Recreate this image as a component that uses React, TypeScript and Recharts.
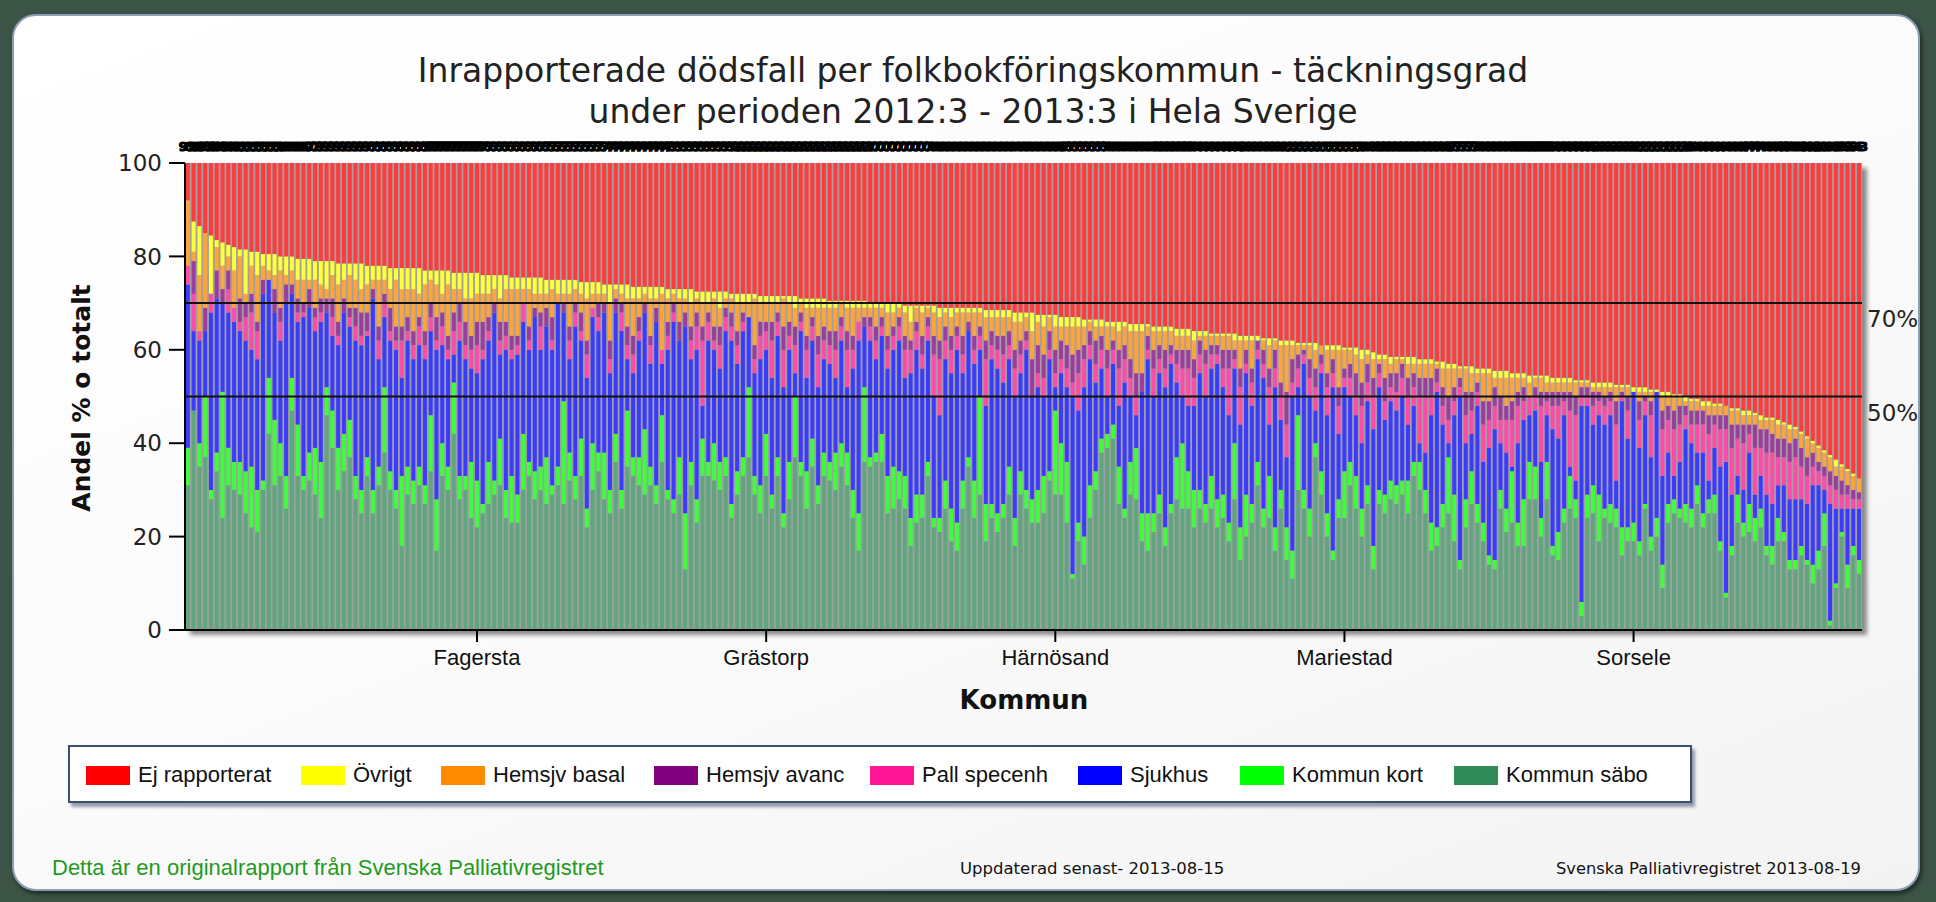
import React from "react";
import { BarChart, Bar, XAxis, YAxis, CartesianGrid, ReferenceLine, LabelList } from "recharts";

// ---- data (per kommun, sorted by reported share) ----
const sabo = [
31,47,35,37,28,34,24,31,30,29,25,22,21,30,42,31,33,26,47,33,30,32,29,24,46,39,30,34,37,28,25,33,25,31,38,30,26,18,29,27,31,27,34,17,33,30,42,28,30,24,22,25,27,29,31,24,23,23,
30,33,28,30,27,29,31,27,32,28,33,22,30,34,28,25,36,26,35,33,31,29,31,27,36,28,25,29,13,31,23,33,33,32,30,33,24,29,33,37,29,25,33,26,33,22,28,37,33,26,35,27,33,32,30,35,31,24,
17,36,35,36,36,25,26,28,26,18,23,24,33,22,21,26,19,17,26,35,24,29,19,24,21,24,29,18,29,26,23,23,25,32,29,29,23,11,19,14,24,30,38,39,41,27,24,29,28,19,17,21,25,18,25,28,26,26,
22,26,23,26,22,24,19,28,15,20,23,31,22,24,17,26,15,11,30,26,20,37,29,20,15,24,24,31,26,20,27,13,27,25,28,27,29,25,33,30,25,17,18,22,25,19,13,22,27,23,19,14,13,26,21,23,18,18,
28,28,20,28,16,15,23,26,24,3,24,25,19,24,23,22,16,19,19,16,26,17,20,9,23,25,24,23,22,27,22,25,25,17,7,16,23,20,21,19,22,16,14,19,19,13,13,16,14,10,13,18,1,9,20,9,16,12];
const kort = [
8,0,5,13,2,4,27,8,6,7,9,13,9,2,12,14,7,7,7,11,3,6,10,12,6,8,9,8,8,5,5,4,5,4,14,4,4,15,6,5,4,4,12,11,7,5,11,5,3,12,10,2,9,3,10,6,10,6,
12,3,6,5,10,2,4,22,6,5,8,4,10,4,10,5,6,4,12,4,6,14,4,4,10,2,3,8,12,5,5,8,3,8,6,4,3,5,4,15,4,6,9,3,4,3,8,13,3,8,6,4,5,4,8,5,7,6,
8,16,2,2,6,8,9,6,7,6,6,5,3,2,3,6,7,6,6,2,8,21,8,3,4,3,6,6,5,4,5,7,8,2,18,11,13,1,4,6,7,4,3,3,3,8,2,7,11,6,8,4,4,4,2,9,14,8,
8,4,4,7,6,5,4,12,7,9,4,5,4,9,5,4,7,6,16,4,6,3,5,5,2,4,10,5,7,6,4,5,3,4,4,4,3,7,3,6,5,6,4,5,12,10,2,6,7,4,4,2,2,4,5,11,5,10,
8,7,4,8,2,6,3,7,4,3,5,6,10,2,4,4,6,3,4,3,1,3,4,5,4,3,2,4,4,4,3,3,4,2,1,2,6,3,6,5,4,2,4,5,2,2,2,2,1,4,4,7,1,1,1,5,2,3];
const sjukhus = [
35,17,22,14,38,33,19,29,30,28,28,25,28,40,21,23,22,37,18,22,34,31,25,30,16,16,22,26,20,29,31,26,41,23,15,28,30,21,27,26,26,27,18,32,21,23,6,29,25,20,23,31,26,36,18,30,25,30,
24,24,33,25,28,29,35,19,20,32,21,28,27,26,30,25,26,34,11,18,25,25,22,35,11,30,38,25,40,22,32,7,26,20,20,27,35,23,27,15,22,27,18,25,26,27,24,5,28,20,21,21,20,21,16,22,14,26,
37,13,25,20,21,23,25,28,21,31,31,27,26,26,22,26,29,37,23,27,25,10,21,31,31,26,23,26,21,30,22,22,17,24,5,15,16,38,24,32,27,19,15,8,13,13,27,14,7,26,33,25,26,30,30,16,10,14,
18,25,23,23,29,23,23,16,22,26,21,22,28,11,30,15,15,33,6,27,24,7,21,21,35,14,18,14,13,14,18,25,22,16,17,16,18,12,12,4,8,23,29,17,3,17,35,12,8,21,13,23,28,10,12,1,17,17,
10,12,12,10,25,20,20,2,4,42,19,13,17,18,19,6,27,19,28,20,19,17,27,19,11,5,10,16,14,7,13,4,10,16,28,11,4,7,11,5,7,11,9,7,10,13,13,10,12,17,14,5,25,16,5,12,8,11];
const pall = [
4,8,2,0,4,0,0,5,3,2,5,8,6,0,0,0,4,0,0,2,1,0,3,2,0,4,2,0,2,3,2,1,0,4,3,2,2,8,2,3,4,3,3,2,4,2,5,4,3,4,6,2,2,0,3,3,2,2,
4,2,0,5,0,2,0,0,4,3,2,5,2,3,0,3,0,4,3,4,2,0,4,0,3,3,2,0,0,4,5,14,4,2,5,3,3,4,2,0,3,5,4,8,3,8,3,6,2,6,3,7,4,4,6,3,8,4,
4,0,3,4,2,4,3,3,6,5,4,3,3,9,12,4,5,3,4,0,3,3,10,3,4,6,3,6,4,2,0,3,4,2,3,3,4,3,8,6,3,4,4,6,3,8,5,4,4,0,2,6,3,4,2,4,6,8,
6,4,7,3,2,4,10,2,8,2,5,2,3,8,4,5,7,3,4,2,4,5,2,6,3,6,2,4,4,8,4,7,3,4,3,4,4,6,4,10,12,4,2,4,5,3,2,6,5,3,8,6,5,5,7,10,8,4,
4,3,12,3,5,7,3,12,14,2,2,4,3,4,3,12,1,6,0,6,3,9,0,10,7,10,8,3,4,6,6,10,5,8,7,10,8,10,4,10,6,9,11,6,6,8,9,7,6,4,3,3,4,4,3,3,2,2];
const avanc = [
0,7,0,5,0,6,3,4,0,5,3,4,2,3,0,5,3,4,2,3,2,4,2,3,3,4,3,3,2,4,5,4,2,3,2,5,3,3,3,3,2,3,3,5,3,3,4,4,5,3,5,6,3,2,4,3,3,2,
0,3,2,3,4,5,0,2,3,2,4,3,0,3,2,4,3,2,4,4,3,2,2,3,0,3,2,4,3,3,3,3,2,3,4,2,3,3,2,0,3,3,2,4,2,5,3,4,2,3,2,4,3,3,4,2,4,3,
0,2,2,3,2,3,2,2,3,2,2,4,2,4,4,3,3,2,4,2,3,2,4,3,3,4,3,4,3,2,8,6,5,4,5,4,5,6,5,3,3,5,3,4,2,4,3,4,5,4,3,4,3,4,2,3,4,4,
4,3,3,2,2,4,4,2,4,3,3,2,3,4,4,3,7,5,3,1,4,4,2,3,3,4,2,3,5,5,4,4,2,5,3,4,3,4,3,4,4,4,3,4,5,3,2,5,4,2,5,4,4,5,3,4,3,3,
0,2,3,2,3,3,2,4,4,2,2,3,2,2,2,5,1,3,0,4,1,3,0,4,3,4,4,2,3,3,3,4,2,3,3,5,3,4,2,5,4,5,4,4,4,4,4,4,4,3,2,2,3,3,3,2,2,1.5];
const basal = [
14,2,12,16,0,5,5,3,8,9,2,6,10,3,2,3,8,2,3,4,5,2,6,3,2,5,8,4,7,6,5,6,2,10,3,4,10,8,6,9,5,10,5,7,4,11,5,3,5,8,6,6,5,3,5,7,10,10,
3,8,3,4,3,6,2,2,7,3,4,9,3,2,2,8,2,2,6,8,4,2,8,2,12,5,2,5,3,5,3,5,2,6,4,2,3,6,2,3,10,4,4,4,2,6,4,4,2,6,2,6,4,5,5,3,5,6,
3,2,2,4,2,5,3,2,5,4,3,5,2,5,5,3,4,3,5,2,5,3,5,3,4,4,3,6,4,3,6,5,6,3,5,3,4,6,5,4,2,3,2,5,3,4,4,6,9,9,2,4,3,4,3,3,3,3,
4,1,3,2,2,3,3,2,6,2,6,0,2,5,2,8,10,3,2,1,3,4,2,5,2,8,4,3,4,5,2,4,1,4,2,3,1,3,2,3,3,3,1,4,6,4,2,5,4,2,6,6,2,4,6,5,3,2,
3,2,3,2,2,2,2,2,3,1,1,1,1,2,1,3,1,2,0,2,1,2,0,3,2,3,2,1,2,2,1,2,2,2,2,3,3,2,2,2,2,2,3,3,3,3,2,3,4,2,3,3,3,2,3,3,3,3];
const ovrigt = [
0,6.5,10.5,0,12.5,1.5,5,2.5,5,1.5,9.5,3,5,2.5,3.5,4.5,3,4,3,4.5,4.5,4.5,4,5,6,3,4.5,3.5,2.5,3.5,5.5,4,3,3,3,4.5,2.5,4.5,4.5,4.5,5.5,3,2,3,5,3,3.5,3.5,5.5,5.5,4.5,4,4,3,5,3,2.5,2.5,
2.5,2.5,3.5,3.5,3,2,3,3,3,2,2.5,3.5,2.5,2.5,2,4,1,2,3,2.5,2.5,1.5,2.5,2.5,1.5,2,1,2,2,3,1.5,2.5,2.5,1.5,3.5,1.5,1,2,2,2,1,1.5,1.5,1.5,1.5,0.5,1.5,2.5,1,2,2,2,2,1.5,1.5,0.5,1.5,1.5,
1.5,1.5,1,1,1,2,2,1,1.5,3.5,0.5,1.5,0.5,1.5,2,1,2,1,1,1,1,1,1.5,1.5,1.5,1.5,1.5,2,2,1,4,1.5,2.5,0.5,2.5,2,2,2,2,1.5,0.5,1.5,1.5,1,1,2,1,1.5,1.5,1.5,0.5,1,1,1,1,1.5,1.5,1.5,
2,1,1,0.5,0.5,0.5,0.5,1.5,1,1,1,1,0.5,1.5,0.5,1,1,1,0.5,0.5,0.5,1.5,0,1,1,1,0.5,0.5,1.5,2,1,1.5,1,1,1.5,0.5,0.5,1.5,1.5,1,1,1,0.5,1.5,1,1,0.5,0.5,1.5,1,1,1,1.5,1.5,1.5,1,1,1,
1.5,0.5,0.5,1.5,1,1,1,1,0.5,0.5,0.5,1,1,1,1,0.5,0.5,0.5,1,1,1,0.5,0.5,1,1,0.5,0.5,1,0.5,0.5,1,1,0.5,0.5,0,0.5,0.5,1,1,0.5,1,0.5,0.5,1,0.5,1,0.5,0.5,0.5,0.5,0.5,0.5,0.5,1.5,0.5,0.5,0.5,0];
const ejRapporterat = [
8,12.5,13.5,15,15.5,16.5,17,17.5,18,18.5,18.5,19,19,19.5,19.5,19.5,20,20,20,20.5,20.5,20.5,21,21,21,21,21.5,21.5,21.5,21.5,21.5,22,22,22,22,22.5,22.5,22.5,22.5,22.5,22.5,23,23,23,23,23,23.5,23.5,23.5,23.5,23.5,24,24,24,24,24,24.5,24.5,
24.5,24.5,24.5,24.5,25,25,25,25,25,25,25.5,25.5,25.5,25.5,26,26,26,26,26,26.5,26.5,26.5,26.5,26.5,26.5,27,27,27,27,27,27.5,27.5,27.5,27.5,27.5,27.5,28,28,28,28,28,28.5,28.5,28.5,28.5,28.5,28.5,28.5,29,29,29,29,29,29.5,29.5,29.5,29.5,29.5,
29.5,29.5,30,30,30,30,30,30,30.5,30.5,30.5,30.5,30.5,30.5,31,31,31,31,31,31,31,31,31.5,31.5,31.5,31.5,31.5,32,32,32,32,32.5,32.5,32.5,32.5,33,33,33,33,33.5,33.5,33.5,33.5,34,34,34,34,34.5,34.5,34.5,34.5,35,35,35,35,35.5,35.5,35.5,
36,36,36,36.5,36.5,36.5,36.5,36.5,37,37,37,37,37.5,37.5,37.5,38,38,38,38.5,38.5,38.5,38.5,39,39,39,39,39.5,39.5,39.5,40,40,40.5,41,41,41.5,41.5,41.5,41.5,41.5,42,42,42,42.5,42.5,43,43,43.5,43.5,43.5,44,44,44,44.5,44.5,44.5,45,45,45,
45.5,45.5,45.5,45.5,46,46,46,46,46.5,46.5,46.5,47,47,47,47,47.5,47.5,47.5,48,48,48,48.5,48.5,49,49,49.5,49.5,50,50.5,50.5,51,51,51.5,51.5,52,52.5,52.5,53,53,53.5,54,54.5,54.5,55,55.5,56,56.5,57.5,58.5,59.5,60.5,61.5,62.5,63.5,64.5,65.5,66.5,67.5];

const xTickIndex = [50, 100, 150, 200, 250];
const xTickNames = ["Fagersta", "Grästorp", "Härnösand", "Mariestad", "Sorsele"];
const yTicks = [0, 20, 40, 60, 80, 100];

const seriesNames = ["Ej rapporterat", "Övrigt", "Hemsjv basal", "Hemsjv avanc", "Pall specenh", "Sjukhus", "Kommun kort", "Kommun säbo"];
const legendColors = ["#FF0000", "#FFFF00", "#FF8C00", "#800080", "#FF1493", "#0000FF", "#00FF00", "#2E8B57"];
const barColors = ["#ff3b3b", "#ffff3b", "#ffa43b", "#9e3b9e", "#ff4aac", "#3b3bff", "#3bff3b", "#5ea67e"];

const rows = sabo.map((v, i) => ({
  nr: i,
  sabo: v,
  kort: kort[i],
  sjukhus: sjukhus[i],
  pall: pall[i],
  avanc: avanc[i],
  basal: basal[i],
  ovrigt: ovrigt[i],
  ej: ejRapporterat[i],
  etikett: String(Math.round(100 - ejRapporterat[i])),
}));

const stackKeys = ["sabo", "kort", "sjukhus", "pall", "avanc", "basal", "ovrigt", "ej"];
const stackColorIdx = [7, 6, 5, 4, 3, 2, 1, 0];

const legendLeft = [16, 231, 371, 584, 800, 1008, 1170, 1384];

export default function App() {
  return (
    <div style={{ position: "absolute", left: 0, top: 0, width: 1936, height: 902, background: "#3c5446", overflow: "hidden" }}>
      <div style={{ position: "absolute", left: 12, top: 14, width: 1904, height: 873, borderRadius: 24, border: "2px solid #8d9db3", background: "linear-gradient(160deg, #ffffff 0%, #fbfbfb 50%, #f3f3f3 100%)", boxShadow: "2px 3px 4px rgba(0,0,0,0.5)" }} />
      <div style={{ position: "absolute", left: 0, width: 1946, top: 50, textAlign: "center", fontFamily: "'DejaVu Sans', Verdana, sans-serif", fontSize: 33, lineHeight: "41px", color: "#222" }}>
        <div>Inrapporterade dödsfall per folkbokföringskommun - täckningsgrad</div>
        <div>under perioden 2012:3 - 2013:3 i Hela Sverige</div>
      </div>
      <div style={{ position: "absolute", left: 190, top: 168, width: 1677, height: 467, background: "#8a8a8a", filter: "blur(2px)" }} />
      <div style={{ position: "absolute", left: 0, top: 0 }}>
        <BarChart width={1936} height={902} data={rows} margin={{ top: 163, right: 74, bottom: 0, left: 0 }} barCategoryGap="14%">
          <CartesianGrid horizontal={false} vertical={false} fill="#a0a0a0" stroke="none" />
          <XAxis dataKey="nr" type="category" height={272} ticks={xTickIndex} interval={0}
            tickFormatter={(v) => xTickNames[xTickIndex.indexOf(v)] ?? ""}
            tick={{ fontSize: 22, fill: "#111", fontFamily: "'Liberation Sans', Arial, sans-serif" }}
            tickSize={12} tickMargin={7} axisLine={{ stroke: "#000", strokeWidth: 2 }} tickLine={{ stroke: "#000", strokeWidth: 2 }} />
          <YAxis type="number" domain={[0, 100]} ticks={yTicks} width={185}
            tick={{ fontSize: 23, fill: "#222", fontFamily: "'DejaVu Sans', Verdana, sans-serif" }}
            tickSize={16} tickMargin={7} axisLine={{ stroke: "#000", strokeWidth: 2 }} tickLine={{ stroke: "#000", strokeWidth: 2 }} />
          {stackKeys.map((k, i) => (
            <Bar key={k} dataKey={k} name={seriesNames[stackColorIdx[i]]} stackId="a" fill={barColors[stackColorIdx[i]]} isAnimationActive={false}>
              {k === "ej" ? (
                <LabelList dataKey="etikett" position="top" offset={12} fontSize={13} fontWeight="bold" fill="#000" stroke="#000" strokeWidth={1.2} fontFamily="'DejaVu Sans', sans-serif" />
              ) : null}
            </Bar>
          ))}
          <ReferenceLine y={70} stroke="#111" strokeWidth={2}
            label={{ value: "70%", position: "right", fill: "#222", fontSize: 23, dy: 16, fontFamily: "'DejaVu Sans', sans-serif" }} />
          <ReferenceLine y={50} stroke="#111" strokeWidth={2}
            label={{ value: "50%", position: "right", fill: "#222", fontSize: 23, dy: 16, fontFamily: "'DejaVu Sans', sans-serif" }} />
        </BarChart>
      </div>
      <div style={{ position: "absolute", left: 81, top: 398, transform: "translate(-50%,-50%) rotate(-90deg)", whiteSpace: "nowrap", fontFamily: "'DejaVu Sans', Verdana, sans-serif", fontWeight: "bold", fontSize: 25, color: "#111" }}>
        Andel % o totalt
      </div>
      <div style={{ position: "absolute", left: 1024, top: 700, transform: "translate(-50%,-50%)", whiteSpace: "nowrap", fontFamily: "'DejaVu Sans', Verdana, sans-serif", fontWeight: "bold", fontSize: 26, color: "#111" }}>
        Kommun
      </div>
      <div style={{ position: "absolute", left: 68, top: 745, width: 1620, height: 54, background: "#fff", border: "2px solid #3d4f6e", boxShadow: "3px 4px 3px rgba(60,80,110,0.55)" }}>
        {seriesNames.map((n, i) => (
          <div key={n} style={{ position: "absolute", left: legendLeft[i], top: 15, display: "flex", alignItems: "center", whiteSpace: "nowrap" }}>
            <div style={{ width: 44, height: 19, background: legendColors[i], marginRight: 8 }} />
            <span style={{ fontFamily: "'Liberation Sans', Arial, sans-serif", fontSize: 22, color: "#111" }}>{n}</span>
          </div>
        ))}
      </div>
      <div style={{ position: "absolute", left: 52, top: 855, fontFamily: "'Liberation Sans', Arial, sans-serif", fontSize: 22, color: "#1f9a1f", whiteSpace: "nowrap" }}>
        Detta är en originalrapport från Svenska Palliativregistret
      </div>
      <div style={{ position: "absolute", left: 960, top: 859, fontFamily: "'DejaVu Sans', Verdana, sans-serif", fontSize: 16.5, color: "#111", whiteSpace: "nowrap" }}>
        Uppdaterad senast- 2013-08-15
      </div>
      <div style={{ position: "absolute", left: 1556, top: 859, fontFamily: "'DejaVu Sans', Verdana, sans-serif", fontSize: 16.3, color: "#111", whiteSpace: "nowrap" }}>
        Svenska Palliativregistret 2013-08-19
      </div>
    </div>
  );
}
